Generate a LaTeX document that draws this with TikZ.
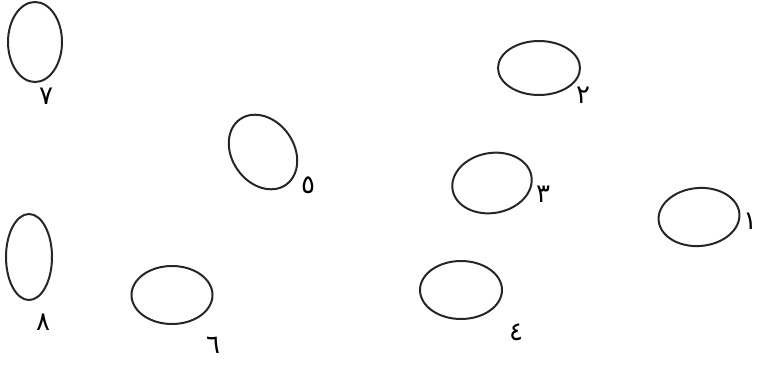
\documentclass[tikz,border=0pt]{standalone}
\usepackage{fontspec}
\newfontfamily\arabicfont[Script=Arabic]{DejaVu Sans}
\TeXXeTstate=1
\usetikzlibrary{shapes.geometric}

\begin{document}
\begin{tikzpicture}[
    x=1pt, y=-1pt,
    ring/.style={draw, ellipse, line width=2pt, inner sep=0pt, draw=black!85},
    num/.style={font=\arabicfont\fontsize{26}{30}\selectfont, inner sep=0pt}
]
    \useasboundingbox (0,0) rectangle (758,365);

    % ellipses
    \node[ring, minimum width=54pt, minimum height=80pt] (e7) at (35,42) {};
    \node[ring, minimum width=82pt, minimum height=54pt] (e2) at (539,68) {};
    \node[ring, minimum width=80pt, minimum height=62pt, rotate=-55] (e5) at (263,152) {};
    \node[ring, minimum width=80pt, minimum height=60pt, rotate=10] (e3) at (492,183) {};
    \node[ring, minimum width=81pt, minimum height=58pt, rotate=5] (e1) at (699,217) {};
    \node[ring, minimum width=46pt, minimum height=86pt] (e8) at (29,257) {};
    \node[ring, minimum width=81pt, minimum height=58pt] (e6) at (172,295) {};
    \node[ring, minimum width=82pt, minimum height=58pt] (e4) at (461,290) {};

    % numbers
    \node[num] (n7) at (46,96) {\beginR ٧\endR};
    \node[num] (n2) at (583,95) {\beginR ٢\endR};
    \node[num] (n5) at (308,185) {\beginR ٥\endR};
    \node[num] (n3) at (543,194) {\beginR ٣\endR};
    \node[num] (n1) at (750,221) {\beginR ١\endR};
    \node[num] (n8) at (43,322) {\beginR ٨\endR};
    \node[num] (n6) at (213,345) {\beginR ٦\endR};
    \node[num] (n4) at (516,332) {\beginR ٤\endR};
\end{tikzpicture}
\end{document}
